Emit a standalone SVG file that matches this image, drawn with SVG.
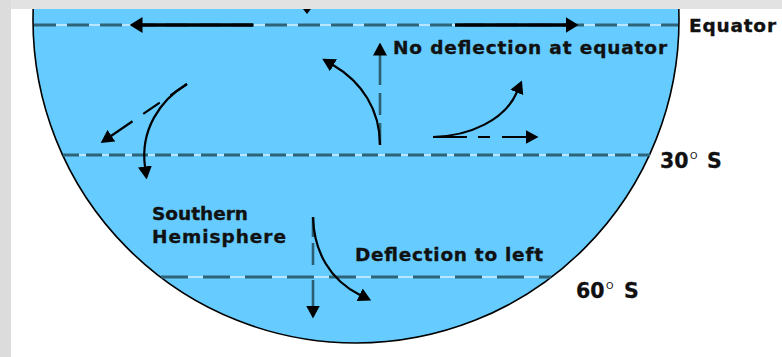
<svg xmlns="http://www.w3.org/2000/svg" width="782" height="357" viewBox="0 0 782 357">
<defs>
<style>
.lbl{font-family:"DejaVu Sans","Verdana",sans-serif;font-weight:bold;font-size:18.5px;fill:#111;stroke:#111;stroke-width:0.35}
.lat{font-family:"DejaVu Sans","Verdana",sans-serif;font-weight:bold;font-size:20.5px;fill:#111;stroke:#111;stroke-width:0.3}
.sup{font-family:"DejaVu Sans","Verdana",sans-serif;font-weight:normal;font-size:9.5px;fill:#111}
.gap{stroke:#b8e6ff;stroke-width:2;fill:none}
.dash{stroke:#2e6478;stroke-width:3;fill:none}
.arr{stroke:#000;stroke-width:2.2;fill:none;marker-end:url(#ah)}
.varr{stroke:#2a5e70;stroke-width:2.6;fill:none;marker-end:url(#ah)}
.big{stroke:#000;stroke-width:3.5;fill:none;marker-end:url(#ahb)}
</style>
<marker id="ah" markerUnits="userSpaceOnUse" viewBox="0 0 13 14" refX="0.5" refY="7" markerWidth="13" markerHeight="14" orient="auto">
<path d="M0,0 L13,7 L0,14 z" fill="#000"/>
</marker>
<marker id="ahb" markerUnits="userSpaceOnUse" viewBox="0 0 13 16" refX="0.5" refY="8" markerWidth="13" markerHeight="16" orient="auto">
<path d="M0,0 L13,8 L0,16 z" fill="#000"/>
</marker>
</defs>
<rect width="782" height="357" fill="#fff"/>
<g id="earth">
<circle cx="356" cy="20" r="323" fill="#66ccff" stroke="#000" stroke-width="1.6"/>
</g>
<g id="frame">
<rect x="0" y="0" width="782" height="9" fill="#e2e2e2"/>
<rect x="0" y="0" width="11" height="357" fill="#dcdcdc"/>
</g>
<g id="latitudes">
<line class="gap" x1="34" y1="25" x2="678" y2="25"/>
<line class="dash" x1="34" y1="25" x2="678" y2="25" stroke-dasharray="22 11"/>
<line class="gap" x1="63" y1="155" x2="650" y2="155"/>
<line class="dash" x1="63" y1="155" x2="650" y2="155" stroke-dasharray="16 7" stroke="#1f4352"/>
<line class="gap" x1="161" y1="277" x2="551" y2="277"/>
<line class="dash" x1="161" y1="277" x2="551" y2="277" stroke-dasharray="27 15"/>
</g>
<g id="connectors">
<path class="big" d="M253,25 L142,25"/>
<path class="big" d="M455,25 L566,25"/>
<path d="M303,9 L311,9 L307,14 z" fill="#000"/>
<path class="varr" d="M380,145 L380,55" stroke-dasharray="22 8 22 8 30"/>
<path class="arr" d="M380,145 C380,110 362,82 333,65"/>
<path class="arr" d="M187,84 C160,100 140,130 145,167"/>
<path class="arr" d="M187,84 L111,136" stroke-dasharray="20 13 20 13 30"/>
<path class="arr" d="M433,137 C470,136 505,120 517,92"/>
<path class="arr" d="M433,137 L526,137" stroke-dasharray="34 11 12 12 30"/>
<path class="varr" d="M313,217 L313,306" stroke-dasharray="20 6 22 15 30"/>
<path class="arr" d="M313,217 C314,252 330,280 360,295"/>
</g>
<g id="label-equator"><text class="lbl" x="689" y="32" textLength="87" lengthAdjust="spacing">Equator</text></g>
<g id="label-nodefl"><text class="lbl" x="393" y="54" textLength="274" lengthAdjust="spacing">No deflection at equator</text></g>
<g id="label-30s"><text class="lat" x="660" y="168">30</text><text class="sup" x="690" y="159">O</text><text class="lat" x="707" y="168">S</text></g>
<g id="label-60s"><text class="lat" x="576" y="298">60</text><text class="sup" x="606" y="289">O</text><text class="lat" x="624" y="298">S</text></g>
<g id="label-southern"><text class="lbl" x="152" y="220" textLength="96" lengthAdjust="spacing">Southern</text><text class="lbl" x="152" y="243" textLength="134" lengthAdjust="spacing">Hemisphere</text></g>
<g id="label-left"><text class="lbl" x="355" y="261" textLength="188" lengthAdjust="spacing">Deflection to left</text></g>
</svg>
